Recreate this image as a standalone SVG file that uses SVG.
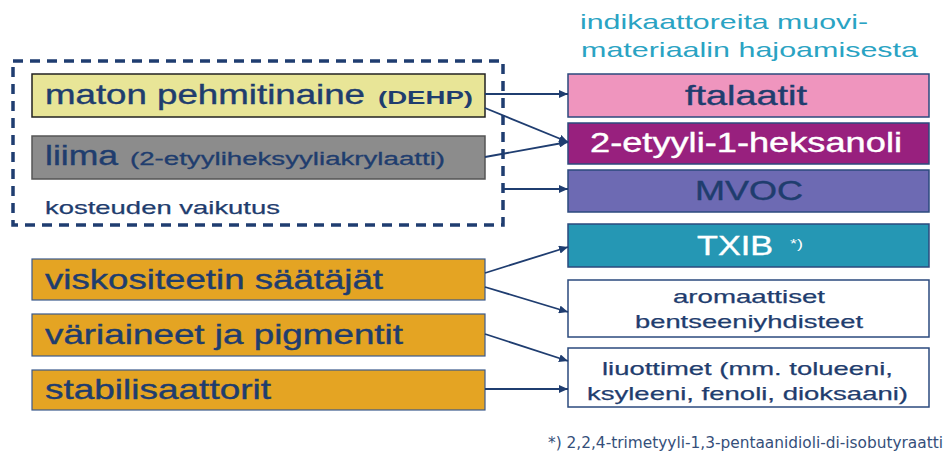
<svg xmlns="http://www.w3.org/2000/svg" width="946" height="453" viewBox="0 0 946 453">
  <defs>
    <marker id="arrow" markerUnits="userSpaceOnUse" markerWidth="9" markerHeight="8" refX="9" refY="4" orient="auto">
      <path d="M0,0 L9,4 L0,8 z" fill="#1f3d70"/>
    </marker>
    <style>
      text { font-family: "Liberation Sans", Arial, sans-serif; }
      .big { font-size: 28px; fill: #1f3d6e; stroke: #1f3d6e; stroke-width: 0.4; }
      .small { font-size: 18px; fill: #1f3d6e; }
      .mid { font-size: 19px; fill: #1f3d6e; stroke: #1f3d6e; stroke-width: 0.25; }
      .head { font-size: 21px; fill: #2aa3c3; }
      .white { fill: #ffffff; stroke: #ffffff; }
      .conn { stroke: #1f3d70; stroke-width: 1.8; fill: none; marker-end: url(#arrow); }
      .orange { fill: #e4a423; stroke: #3b5a8c; stroke-width: 1.2; }
      .right { stroke: #2b4a7e; stroke-width: 1.5; }
    </style>
  </defs>
  <rect width="946" height="453" fill="#ffffff"/>

  <!-- header above the indicator column -->
  <g id="header">
    <text class="head" x="580" y="29" textLength="288" lengthAdjust="spacingAndGlyphs">indikaattoreita muovi-</text>
    <text class="head" x="581" y="57" textLength="337" lengthAdjust="spacingAndGlyphs">materiaalin hajoamisesta</text>
  </g>

  <!-- dashed group: mat plasticiser, glue, moisture -->
  <g id="moisture-group">
    <rect x="13" y="61" width="490" height="164" fill="none" stroke="#1f3d70" stroke-width="3.5" stroke-dasharray="10 7"/>
    <text class="mid" x="45" y="214" textLength="235" lengthAdjust="spacingAndGlyphs">kosteuden vaikutus</text>
  </g>

  <g id="dehp">
    <rect x="32" y="74" width="453" height="43" fill="#e8e597" stroke="#222222" stroke-width="1.5"/>
    <text class="big" x="45" y="104" textLength="320" lengthAdjust="spacingAndGlyphs">maton pehmitinaine</text>
    <text class="small" x="378" y="104" font-weight="bold" textLength="95" lengthAdjust="spacingAndGlyphs">(DEHP)</text>
  </g>

  <g id="liima">
    <rect x="32" y="136" width="453" height="43" fill="#8c8c8c" stroke="#555555" stroke-width="1.5"/>
    <text class="big" x="45" y="165" textLength="73" lengthAdjust="spacingAndGlyphs">liima</text>
    <text class="small" x="130" y="165" stroke="#1f3d6e" stroke-width="0.3" textLength="315" lengthAdjust="spacingAndGlyphs">(2-etyyliheksyyliakrylaatti)</text>
  </g>

  <g id="viskositeetti">
    <rect class="orange" x="32" y="259" width="453" height="41"/>
    <text class="big" x="45" y="289" textLength="338" lengthAdjust="spacingAndGlyphs">viskositeetin säätäjät</text>
  </g>

  <g id="variaineet">
    <rect class="orange" x="32" y="314" width="453" height="42"/>
    <text class="big" x="45" y="344" textLength="358" lengthAdjust="spacingAndGlyphs">väriaineet ja pigmentit</text>
  </g>

  <g id="stabilisaattorit">
    <rect class="orange" x="32" y="370" width="453" height="40"/>
    <text class="big" x="45" y="399" textLength="226" lengthAdjust="spacingAndGlyphs">stabilisaattorit</text>
  </g>

  <!-- indicator column -->
  <g id="ftalaatit">
    <rect class="right" x="568" y="74" width="361" height="43" fill="#ef95be"/>
    <text class="big" font-size="27" x="685" y="105" textLength="122" lengthAdjust="spacingAndGlyphs">ftalaatit</text>
  </g>

  <g id="heksanoli">
    <rect class="right" x="568" y="123" width="361" height="41" fill="#98207e"/>
    <text class="big white" x="590" y="152" textLength="312" lengthAdjust="spacingAndGlyphs">2-etyyli-1-heksanoli</text>
  </g>

  <g id="mvoc">
    <rect class="right" x="568" y="170" width="361" height="42" fill="#6d6ab3"/>
    <text class="big" x="695" y="200" font-size="25" textLength="108" lengthAdjust="spacingAndGlyphs">MVOC</text>
  </g>

  <g id="txib">
    <rect class="right" x="568" y="224" width="361" height="43" fill="#2597b4"/>
    <text class="big white" x="697" y="255" font-size="25" textLength="76" lengthAdjust="spacingAndGlyphs">TXIB</text>
    <text x="790" y="248" font-size="12" fill="#ffffff" textLength="13" lengthAdjust="spacingAndGlyphs">*)</text>
  </g>

  <g id="aromaattiset">
    <rect class="right" x="568" y="280" width="361" height="57" fill="#ffffff"/>
    <text class="mid" x="673" y="303" textLength="152" lengthAdjust="spacingAndGlyphs">aromaattiset</text>
    <text class="mid" x="635" y="328" textLength="228" lengthAdjust="spacingAndGlyphs">bentseeniyhdisteet</text>
  </g>

  <g id="liuottimet">
    <rect class="right" x="568" y="348" width="361" height="59" fill="#ffffff"/>
    <text class="mid" x="602" y="375" textLength="291" lengthAdjust="spacingAndGlyphs">liuottimet (mm. tolueeni,</text>
    <text class="mid" x="587" y="400" textLength="321" lengthAdjust="spacingAndGlyphs">ksyleeni, fenoli, dioksaani)</text>
  </g>

  <!-- connectors -->
  <g id="connectors">
    <line class="conn" x1="485" y1="94" x2="568" y2="94"/>
    <line class="conn" x1="485" y1="108" x2="568" y2="142"/>
    <line class="conn" x1="485" y1="157" x2="568" y2="142"/>
    <line class="conn" x1="503" y1="189" x2="568" y2="189"/>
    <line class="conn" x1="485" y1="273" x2="568" y2="247"/>
    <line class="conn" x1="485" y1="287" x2="568" y2="312"/>
    <line class="conn" x1="485" y1="334" x2="568" y2="361"/>
    <line class="conn" x1="485" y1="389" x2="568" y2="389" stroke-width="2.6"/>
  </g>

  <g id="footnote">
    <text x="548" y="448" font-size="15" fill="#354f7a" style="font-family: 'DejaVu Sans', Verdana, sans-serif;" textLength="395" lengthAdjust="spacingAndGlyphs">*) 2,2,4-trimetyyli-1,3-pentaanidioli-di-isobutyraatti</text>
  </g>
</svg>
